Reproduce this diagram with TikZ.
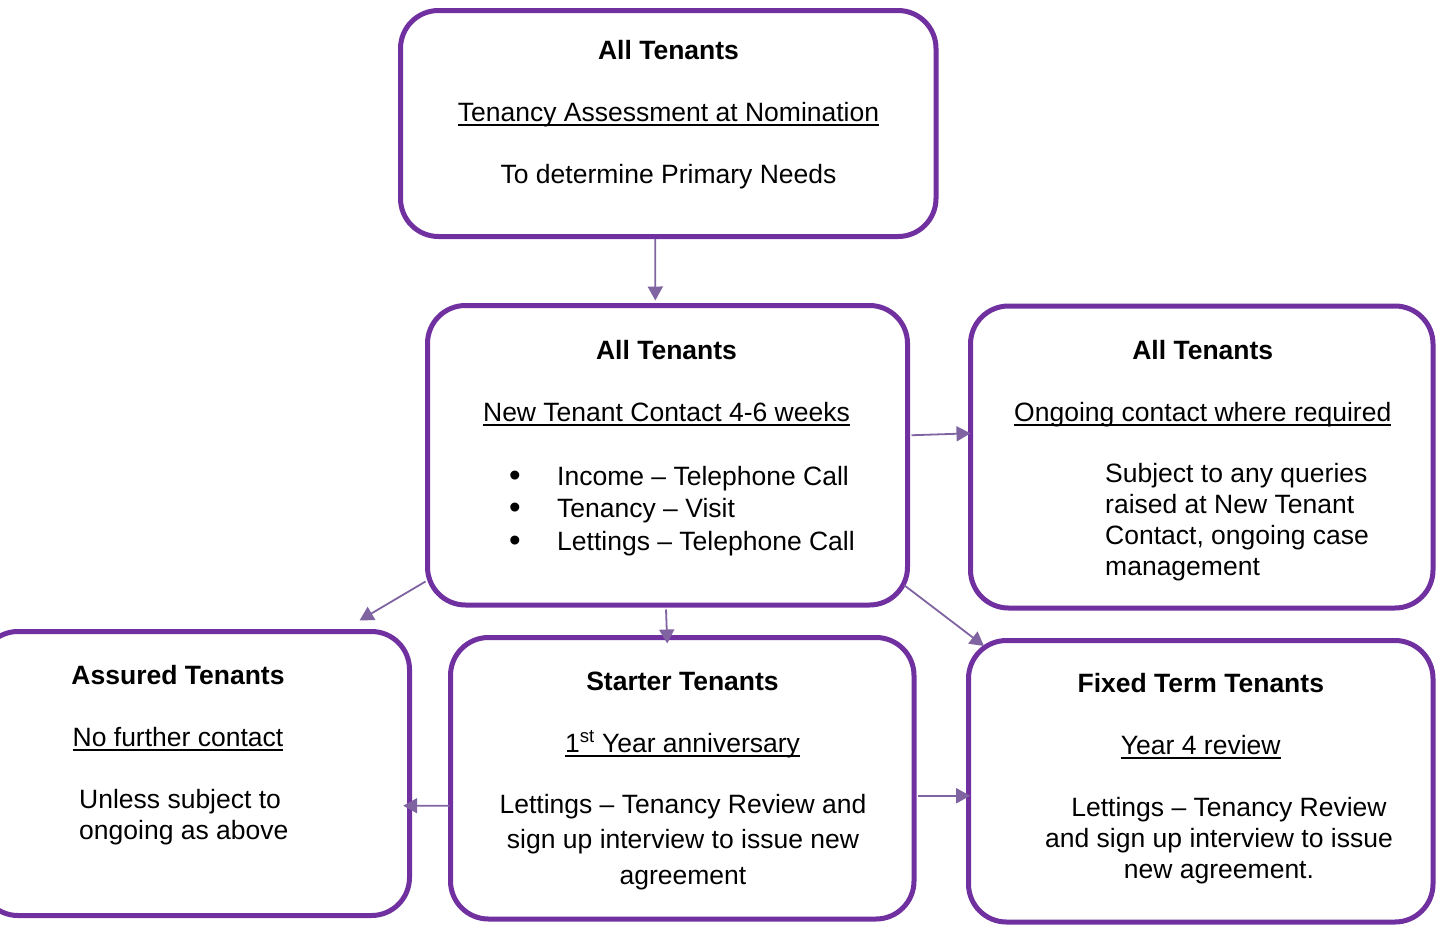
\documentclass[tikz,border=0pt]{standalone}
\usepackage{fontspec}
\setmainfont{Liberation Sans}
\usetikzlibrary{calc,arrows.meta}
\definecolor{boxpurple}{HTML}{7030A0}
\definecolor{arrowpurple}{HTML}{8064A2}
\tikzset{>={Triangle[length=14pt,width=15pt]}}
\newcommand{\undl}[1]{\setbox0=\hbox{#1}\rlap{\rule[-5pt]{\wd0}{2.2pt}}\box0}
\newcommand{\boxfont}{\fontsize{26.5}{31}\selectfont}
\newcommand{\blt}{\makebox[48pt][l]{\raisebox{-1pt}{\fontsize{33}{31}\selectfont\textbullet}}}

\begin{document}
\begin{tikzpicture}[x=1pt,y=-1pt,
  box/.style={rectangle,draw=boxpurple,line width=5pt,rounded corners=38pt},
  arr/.style={->,draw=arrowpurple,line width=1.8pt},
  txt/.style={inner sep=0pt,anchor=base,font=\boxfont,align=center}]

  \useasboundingbox (0,0) rectangle (1437,926);
  \fill[white] (0,0) rectangle (1437,926);

  \node[box,minimum width=535.5pt,minimum height=226pt] (topbox) at (668.25,123.5) {};
  \node[box,minimum width=480pt,minimum height=299.5pt] (midbox) at (667.5,455.25) {};
  \node[box,minimum width=462.5pt,minimum height=302pt] (ongoing) at (1201.75,457) {};
  \node[box,minimum width=429.5pt,minimum height=284pt] (assured) at (194.75,773.5) {};
  \node[box,minimum width=463.5pt,minimum height=281.5pt] (starter) at (682.25,778.25) {};
  \node[box,minimum width=464.5pt,minimum height=281.5pt] (fixed) at (1200.75,781.25) {};

  % text nodes sit on the baseline of their last line
  \node[txt] (toptext) at (668.5,183) {\textbf{All Tenants}\\[31pt]\undl{Tenancy Assessment at Nomination}\\[31pt]To determine Primary Needs};

  \node[txt] (midtitle) at (666.5,421) {\textbf{All Tenants}\\[31pt]\undl{New Tenant Contact 4-6 weeks}};
  \node[txt,anchor=base west,align=left,font=\fontsize{26.5}{32.5}\selectfont] (midlist) at (509,550)
    {\blt Income \textendash{} Telephone Call\\
     \blt Tenancy \textendash{} Visit\\
     \blt Lettings \textendash{} Telephone Call};

  \node[txt] (ongoingtitle) at (1202.75,421) {\textbf{All Tenants}\\[31pt]\undl{Ongoing contact where required}};
  \node[txt,anchor=base west,align=left,font=\fontsize{26.5}{30.7}\selectfont] (ongoingtext) at (1105,575)
    {Subject to any queries\\raised at New Tenant\\Contact, ongoing case\\management};

  \node[txt] (assuredtitle) at (178,746) {\textbf{Assured Tenants}\\[31pt]\undl{No further contact}};
  \node[txt,anchor=base west,align=left] (assuredtext) at (79,839) {Unless subject to\\ongoing as above};

  \node[txt] (startertitle) at (682.5,752) {\textbf{Starter Tenants}\\[31pt]\undl{1\textsuperscript{st} Year anniversary}};
  \node[txt,font=\fontsize{26.5}{35.5}\selectfont] (startertext) at (683,884)
    {Lettings \textendash{} Tenancy Review and\\sign up interview to issue new\\agreement};

  \node[txt] (fixedtitle) at (1200.75,754) {\textbf{Fixed Term Tenants}\\[31pt]\undl{Year 4 review}};
  \node[txt] (fixedtext) at (1219,878)
    {\hspace*{20pt}Lettings \textendash{} Tenancy Review\\and sign up interview to issue\\new agreement.};

  % connectors
  \draw[arr] ($(topbox.south)+(-13,0)$) -- ($(midbox.north)+(-12.2,-2.5)$);
  \draw[arr] ($(midbox.east)+(1.5,-20)$) -- ($(ongoing.west)+(2.5,-23.7)$);
  \draw[arr] ($(midbox.south west)+(0.5,-26)$) -- ($(assured.north east)+(-52.5,-8.5)$);
  \draw[arr] ($(midbox.south)+(-1.5,2)$) -- ($(starter.north)+(-15,8.5)$);
  \draw[arr] ($(midbox.south east)+(-5.8,-22.3)$) -- ($(fixed.north west)+(18,8)$);
  \draw[arr] ($(starter.west)+(1.5,27.5)$) -- ($(assured.east)+(-8.8,32.2)$);
  \draw[arr] ($(starter.east)+(1,17.5)$) -- ($(fixed.west)+(4.2,14.5)$);

\end{tikzpicture}
\end{document}
